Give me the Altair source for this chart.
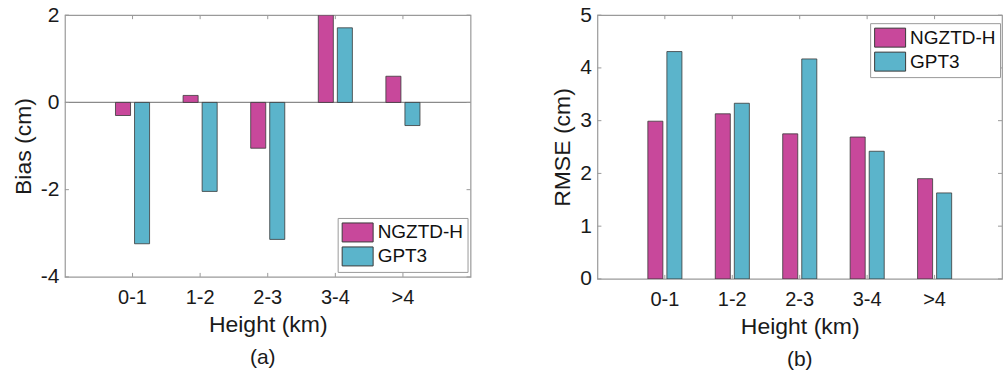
import altair as alt
import pandas as pd

heights = ["0-1", "1-2", "2-3", "3-4", ">4"]
series = ["NGZTD-H", "GPT3"]
bias_ngztd = [-0.30, 0.16, -1.05, 2.0, 0.60]
bias_gpt3 = [-3.24, -2.04, -3.14, 1.71, -0.53]
rmse_ngztd = [2.99, 3.13, 2.75, 2.69, 1.90]
rmse_gpt3 = [4.31, 3.33, 4.17, 2.42, 1.63]
bias_ticks = [-4, -2, 0, 2]
rmse_ticks = [0, 1, 2, 3, 4, 5]
colors = ["#C8489B", "#5BB4CB"]

FONT = "Liberation Sans"
BOX = "#9a9a9a"
TXT = "#1a1a1a"


def long_df(a, b):
    rows = []
    for h, va, vb in zip(heights, a, b):
        rows.append({"Height": h, "Model": series[0], "value": va})
        rows.append({"Height": h, "Model": series[1], "value": vb})
    return pd.DataFrame(rows)


def panel(a, b, ticks, domain, ytitle, tag, W, H, legend_y, with_zero, tag_dx):
    df = long_df(a, b)
    xscale = alt.Scale(paddingInner=0.4, paddingOuter=0.7)
    yscale = alt.Scale(domain=domain, nice=False, zero=False)
    xaxis = alt.Axis(title="Height (km)", labelAngle=0, domain=False, ticks=False,
                     labelPadding=11, labelFontSize=20, titleFontSize=23,
                     titlePadding=6, titleFontWeight="normal",
                     labelColor=TXT, titleColor=TXT)
    yaxis = alt.Axis(title=ytitle, values=ticks, domain=False, ticks=False, grid=False,
                     labelExpr="'' + datum.value",
                     labelPadding=6, labelFontSize=21, titleFontSize=23,
                     titlePadding=5, titleFontWeight="normal",
                     labelColor=TXT, titleColor=TXT)
    X = alt.X("Height:N", sort=heights, scale=xscale, axis=xaxis)
    Y = alt.Y("value:Q", scale=yscale, axis=yaxis)
    bars = alt.Chart(df).mark_bar(stroke="#3a3a3a", strokeWidth=0.8, clip=True).encode(
        x=X,
        xOffset=alt.XOffset("Model:N", sort=series,
                            scale=alt.Scale(paddingInner=0.21, paddingOuter=0.17)),
        y=Y,
        fill=alt.Fill("Model:N", scale=alt.Scale(domain=series, range=colors),
                      legend=alt.Legend(title=None, orient="none", legendX=273, legendY=legend_y,
                                        symbolType="M-1,-0.95H2.1V0.95H-1Z", symbolSize=400,
                                        symbolStrokeColor="#3a3a3a", symbolStrokeWidth=1,
                                        labelFontSize=19, labelFont=FONT, labelColor="#111",
                                        labelOffset=15, rowPadding=1, padding=4,
                                        strokeColor=BOX, fillColor="white")),
    )
    tdf_x = pd.DataFrame({"Height": heights})
    xt_bottom = alt.Chart(tdf_x).mark_rule(color=BOX, strokeWidth=1).encode(
        x=X, y=alt.value(H), y2=alt.value(H - 4))
    xt_top = alt.Chart(tdf_x).mark_rule(color=BOX, strokeWidth=1).encode(
        x=X, y=alt.value(0), y2=alt.value(4))
    tdf_y = pd.DataFrame({"value": ticks})
    yt_left = alt.Chart(tdf_y).mark_rule(color=BOX, strokeWidth=1).encode(
        y=Y, x=alt.value(0), x2=alt.value(4))
    yt_right = alt.Chart(tdf_y).mark_rule(color=BOX, strokeWidth=1).encode(
        y=Y, x=alt.value(W - 4), x2=alt.value(W))
    layers = []
    if with_zero:
        zdf = pd.DataFrame({"value": [0]})
        layers.append(alt.Chart(zdf).mark_rule(color="#8a8a8a", strokeWidth=1.2).encode(
            y=Y, x=alt.value(0), x2=alt.value(W)))
    layers += [bars, xt_bottom, xt_top, yt_left, yt_right]
    return alt.layer(*layers).properties(
        width=W, height=H,
        title=alt.TitleParams(tag, orient="bottom", fontSize=21, fontWeight="normal",
                              font=FONT, color=TXT, offset=10, dx=tag_dx, anchor="middle"),
    )


left = panel(bias_ngztd, bias_gpt3, bias_ticks, [-4, 2], "Bias (cm)", "(a)", 406, 262, 203, True, -5)
right = panel(rmse_ngztd, rmse_gpt3, rmse_ticks, [0, 5], "RMSE (cm)", "(b)", 405, 264, 8, False, 0)

chart = alt.hconcat(left, right, spacing=127, bounds="flush").resolve_scale(
    fill="independent").resolve_legend(fill="independent").properties(
    padding={"left": 11, "top": 3, "right": 3, "bottom": 0},
    background="white",
).configure(font=FONT).configure_view(stroke=BOX, strokeWidth=1.2)

chart.save("out.html", embed_options={"renderer": "svg", "actions": False})
